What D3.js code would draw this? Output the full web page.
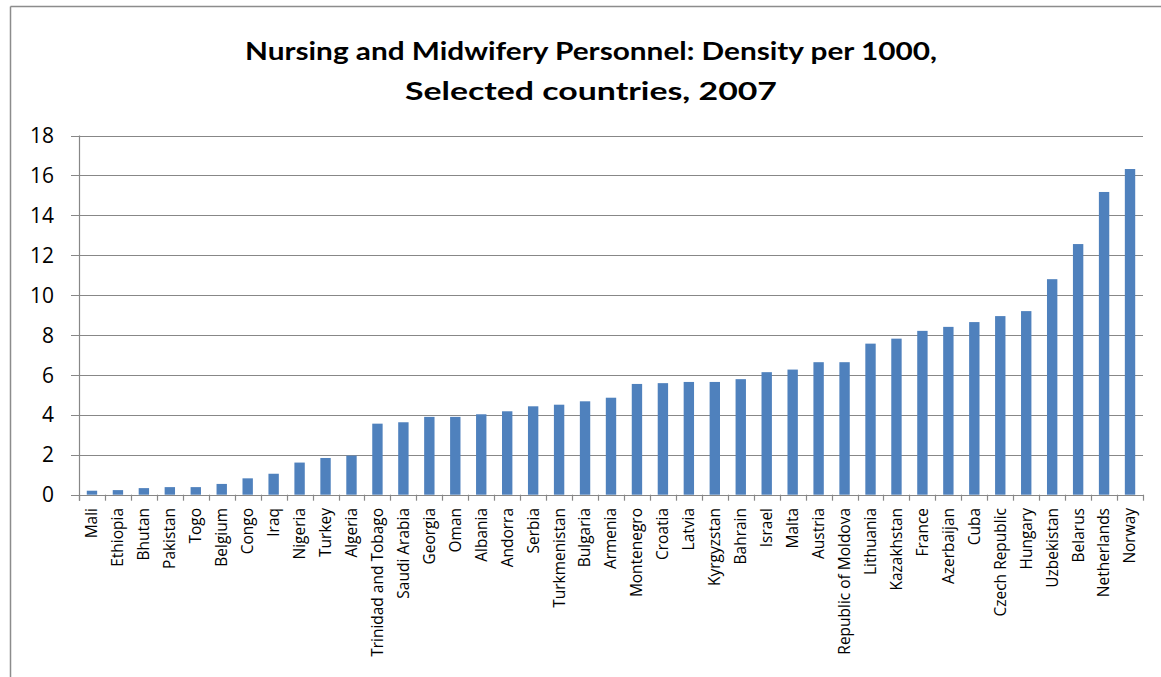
<!DOCTYPE html>
<html>
<head>
<meta charset="utf-8">
<script src="https://cdn.jsdelivr.net/npm/d3@7"></script>
<style>
  body { margin: 0; background: #fff; }
  text { font-family: "Open Sans", sans-serif; fill: #000; }
  .title { font-family: Lato, "Open Sans", sans-serif; }
</style>
</head>
<body>
<svg id="chart" width="1161" height="677"></svg>
<script>
// countries, sorted by density as in the source
var countries = ["Mali", "Ethiopia", "Bhutan", "Pakistan", "Togo", "Belgium", "Congo", "Iraq",
  "Nigeria", "Turkey", "Algeria", "Trinidad and Tobago", "Saudi Arabia", "Georgia", "Oman",
  "Albania", "Andorra", "Serbia", "Turkmenistan", "Bulgaria", "Armenia", "Montenegro", "Croatia",
  "Latvia", "Kyrgyzstan", "Bahrain", "Israel", "Malta", "Austria", "Republic of Moldova",
  "Lithuania", "Kazakhstan", "France", "Azerbaijan", "Cuba", "Czech Republic", "Hungary",
  "Uzbekistan", "Belarus", "Netherlands", "Norway"];
// nursing and midwifery personnel per 1000
var density = [0.20, 0.23, 0.33, 0.38, 0.38, 0.54, 0.82, 1.05,
  1.61, 1.84, 1.96, 3.56, 3.63, 3.90, 3.90,
  4.03, 4.18, 4.43, 4.51, 4.68, 4.86, 5.55, 5.59,
  5.65, 5.65, 5.79, 6.14, 6.27, 6.64, 6.64,
  7.57, 7.82, 8.21, 8.41, 8.65, 8.95, 9.20,
  10.80, 12.56, 15.17, 16.32];
var yTicks = [0, 2, 4, 6, 8, 10, 12, 14, 16, 18];
var titleLines = ["Nursing and Midwifery Personnel: Density per 1000,", "Selected countries, 2007"];

// picks a font size so that a sample string comes out at the wanted width
function fitFontSize(svg, sample, wanted) {
  var t = svg.append("text").attr("font-size", 20).text(sample);
  var len = t.node().getComputedTextLength();
  t.remove();
  return 20 * wanted / len;
}

function drawChart() {
  var svg = d3.select("#chart");
  var plotLeft = 79, plotRight = 1143, plotTop = 135.5, plotBottom = 494.7;
  var gridColor = "#878787";

  var catSize = fitFontSize(svg, "Trinidad and Tobago", 149);
  var tickSize = fitFontSize(svg, "18", 24);

  // outer chart frame (only top and left show in the picture)
  svg.append("line").attr("x1", 10.5).attr("x2", 1161).attr("y1", 6.5).attr("y2", 6.5)
    .attr("stroke", "#8c8c8c").attr("stroke-width", 1.5);
  svg.append("line").attr("x1", 10.5).attr("x2", 10.5).attr("y1", 6.5).attr("y2", 677)
    .attr("stroke", "#8c8c8c").attr("stroke-width", 1.5);

  // title
  svg.selectAll(".title").data(titleLines).enter().append("text")
    .attr("class", "title")
    .attr("x", 591)
    .attr("y", function(d, i) { return 60 + i * 40; })
    .attr("text-anchor", "middle")
    .attr("font-size", 25)
    .attr("font-weight", "bold")
    .attr("textLength", function(d, i) { return i == 0 ? 692 : 372; })
    .attr("lengthAdjust", "spacingAndGlyphs")
    .text(function(d) { return d; });

  var x = d3.scaleBand().domain(countries).range([plotLeft, plotRight]).paddingInner(0.6).paddingOuter(0.3);
  var y = d3.scaleLinear().domain([0, 18]).range([plotBottom, plotTop]);

  // gridlines with their little tick stubs on the left
  svg.append("g").selectAll("line").data(yTicks).enter().append("line")
    .attr("x1", 71).attr("x2", plotRight)
    .attr("y1", function(d) { return Math.round(y(d)) + 0.5; })
    .attr("y2", function(d) { return Math.round(y(d)) + 0.5; })
    .attr("stroke", gridColor).attr("stroke-width", 1.2);

  // y axis labels
  svg.append("g").selectAll("text").data(yTicks).enter().append("text")
    .attr("x", 54)
    .attr("y", function(d) { return y(d); })
    .attr("dy", "0.36em")
    .attr("text-anchor", "end")
    .attr("font-size", tickSize)
    .text(function(d) { return d; });

  // bars
  svg.append("g").selectAll("rect").data(density).enter().append("rect")
    .attr("x", function(d, i) { return x(countries[i]); })
    .attr("width", x.bandwidth())
    .attr("y", function(d) { return y(d); })
    .attr("height", function(d) { return plotBottom - y(d); })
    .attr("fill", "#4f81bd");

  // y axis line
  svg.append("line").attr("x1", plotLeft + 0.5).attr("x2", plotLeft + 0.5)
    .attr("y1", plotTop).attr("y2", plotBottom + 6)
    .attr("stroke", gridColor).attr("stroke-width", 1.2);

  // x axis line + tick marks between categories
  svg.append("line").attr("x1", plotLeft).attr("x2", plotRight + 1)
    .attr("y1", Math.round(plotBottom) + 0.5).attr("y2", Math.round(plotBottom) + 0.5)
    .attr("stroke", gridColor).attr("stroke-width", 1.2);
  var boundaries = d3.range(countries.length + 1).map(function(i) {
    return plotLeft + i * (plotRight - plotLeft) / countries.length;
  });
  svg.append("g").selectAll("line").data(boundaries).enter().append("line")
    .attr("x1", function(d) { return Math.round(d) + 0.5; })
    .attr("x2", function(d) { return Math.round(d) + 0.5; })
    .attr("y1", plotBottom).attr("y2", plotBottom + 6)
    .attr("stroke", gridColor).attr("stroke-width", 1.2);

  // category labels, rotated
  svg.append("g").selectAll("text").data(countries).enter().append("text")
    .attr("transform", function(d) {
      return "translate(" + (x(d) + x.bandwidth() / 2) + "," + 508 + ") rotate(-90)";
    })
    .attr("dy", "0.35em")
    .attr("text-anchor", "end")
    .attr("font-size", catSize)
    .text(function(d) { return d; });
}

drawChart();
</script>
</body>
</html>
